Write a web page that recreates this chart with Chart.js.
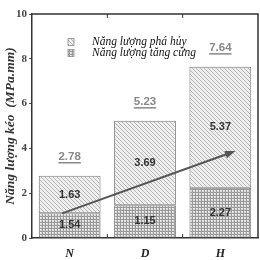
<!DOCTYPE html>
<html>
<head>
<meta charset="utf-8">
<style>
  html, body { margin: 0; padding: 0; background: #fff; }
  #wrap { width: 260px; height: 260px; }
</style>
</head>
<body>
<div id="wrap">
  <canvas id="my-chart" width="260" height="260"></canvas>
</div>

<script src="https://cdn.jsdelivr.net/npm/chart.js"></script>

<script>
  const categories = ['N', 'D', 'H']
  const seriesNames = ['Năng lượng phá hủy', 'Năng lượng tăng cứng']
  // bar heights
  const hardening = [1.10, 1.46, 2.24]
  const fracture = [1.68, 3.77, 5.40]
  // printed labels (as written on the figure)
  const hardeningLabels = ['1.54', '1.15', '2.27']
  const fractureLabels = ['1.63', '3.69', '5.37']
  const totalLabels = ['2.78', '5.23', '7.64']
  const yTicks = [0, 2, 4, 6, 8, 10]
  // arrow, in data units [category index, value]
  const arrowFrom = [-0.1, 1.1]
  const arrowTo = [2.2, 3.88]

  const makePattern = (size, draw) => {
    const c = document.createElement('canvas')
    c.width = size; c.height = size
    const g = c.getContext('2d')
    draw(g, size)
    return document.getElementById('my-chart').getContext('2d').createPattern(c, 'repeat')
  }

  const hatch = makePattern(4, (g, s) => {
    g.fillStyle = '#efefef'
    g.fillRect(0, 0, s, s)
    g.strokeStyle = '#a0a0a0'
    g.lineWidth = 0.75
    g.beginPath()
    g.moveTo(-1, -1); g.lineTo(s + 1, s + 1)
    g.moveTo(-1, s - 1); g.lineTo(1, s + 1)
    g.moveTo(s - 1, -1); g.lineTo(s + 1, 1)
    g.stroke()
  })

  const checker = makePattern(3, (g, s) => {
    g.fillStyle = '#dcdcdc'
    g.fillRect(0, 0, s, s)
    g.fillStyle = '#999999'
    g.fillRect(0, 0, s, 1)
    g.fillRect(0, 0, 1, s)
    g.fillStyle = '#f6f6f6'
    g.fillRect(1, 1, 1, 1)
  })

  const serif = '"Liberation Serif", "DejaVu Serif", serif'
  const sans = '"Liberation Sans", Arial, sans-serif'

  const dataAt = (chart, idx, val) => {
    const xs = chart.scales.x, ys = chart.scales.y
    const p0 = xs.getPixelForValue(0), p1 = xs.getPixelForValue(1)
    return [p0 + (p1 - p0) * idx, ys.getPixelForValue(val)]
  }

  const decor = {
    id: 'decor',
    afterDatasetsDraw(chart) {
      const ctx = chart.ctx
      const a = chart.chartArea
      ctx.save()

      // frame top + right
      ctx.strokeStyle = '#333'
      ctx.lineWidth = 1.5
      ctx.beginPath()
      ctx.moveTo(a.left, a.top); ctx.lineTo(a.right, a.top); ctx.lineTo(a.right, a.bottom)
      ctx.stroke()

      // inward ticks at category boundaries
      const xs = chart.scales.x
      const step = xs.getPixelForValue(1) - xs.getPixelForValue(0)
      ctx.lineWidth = 1
      for (let i = 0; i < categories.length - 1; i++) {
        const x = xs.getPixelForValue(i) + step / 2
        ctx.beginPath()
        ctx.moveTo(x, a.bottom); ctx.lineTo(x, a.bottom - 4)
        ctx.moveTo(x, a.top); ctx.lineTo(x, a.top + 4)
        ctx.stroke()
      }

      // segment labels
      ctx.textAlign = 'center'
      ctx.textBaseline = 'middle'
      ctx.font = 'bold 11px ' + sans
      ctx.fillStyle = '#333'
      const mBot = chart.getDatasetMeta(0).data
      const mTop = chart.getDatasetMeta(1).data
      mBot.forEach((b, i) => {
        ctx.fillText(hardeningLabels[i], b.x, (b.y + b.base) / 2)
      })
      mTop.forEach((b, i) => {
        ctx.fillText(fractureLabels[i], b.x, (b.y + b.base) / 2)
      })

      // totals, underlined
      ctx.fillStyle = '#888'
      ctx.strokeStyle = '#888'
      ctx.lineWidth = 1.5
      ctx.font = 'bold 11.5px ' + sans
      mTop.forEach((b, i) => {
        const y = b.y - 19
        ctx.fillText(totalLabels[i], b.x, y)
        const w = ctx.measureText(totalLabels[i]).width
        ctx.beginPath()
        ctx.moveTo(b.x - w / 2, y + 6); ctx.lineTo(b.x + w / 2, y + 6)
        ctx.stroke()
      })

      // arrow
      const [x0, y0] = dataAt(chart, arrowFrom[0], arrowFrom[1])
      const [x1, y1] = dataAt(chart, arrowTo[0], arrowTo[1])
      const ang = Math.atan2(y1 - y0, x1 - x0)
      const head = 11
      ctx.strokeStyle = '#555'
      ctx.fillStyle = '#555'
      ctx.lineWidth = 2
      ctx.beginPath()
      ctx.moveTo(x0, y0)
      ctx.lineTo(x1 - head * 0.8 * Math.cos(ang), y1 - head * 0.8 * Math.sin(ang))
      ctx.stroke()
      ctx.beginPath()
      ctx.moveTo(x1, y1)
      ctx.lineTo(x1 - head * Math.cos(ang - 0.35), y1 - head * Math.sin(ang - 0.35))
      ctx.lineTo(x1 - head * Math.cos(ang + 0.35), y1 - head * Math.sin(ang + 0.35))
      ctx.closePath()
      ctx.fill()

      // legend inside the plot
      const items = [[seriesNames[0], hatch], [seriesNames[1], checker]]
      ctx.textAlign = 'left'
      ctx.font = 'italic 11.5px ' + serif
      items.forEach(([txt, pat], i) => {
        const y = a.top + 28 + i * 11
        ctx.fillStyle = pat
        ctx.fillRect(a.left + 36, y - 3.5, 6, 7)
        ctx.strokeStyle = '#888'
        ctx.lineWidth = 0.8
        ctx.strokeRect(a.left + 36, y - 3.5, 6, 7)
        ctx.fillStyle = '#111'
        ctx.fillText(txt, a.left + 60, y)
      })

      ctx.restore()
    }
  }

  const chart = new Chart(document.getElementById('my-chart').getContext('2d'), {
    type: 'bar',
    data: {
      labels: categories,
      datasets: [
        {
          label: seriesNames[1],
          data: hardening,
          backgroundColor: checker,
          borderColor: '#7a7a7a',
          borderWidth: 1,
          borderSkipped: false,
          stack: 's',
        },
        {
          label: seriesNames[0],
          data: fracture,
          backgroundColor: hatch,
          borderColor: '#7a7a7a',
          borderWidth: 1,
          borderSkipped: false,
          stack: 's',
        },
      ]
    },
    options: {
      responsive: false,
      animation: false,
      layout: { padding: { top: 14, right: 2, left: 2, bottom: 0 } },
      plugins: { legend: { display: false }, tooltip: { enabled: false } },
      datasets: { bar: { barPercentage: 0.82, categoryPercentage: 1 } },
      scales: {
        x: {
          stacked: true,
          grid: { display: false, drawTicks: false },
          border: { color: '#333', width: 1.5 },
          ticks: {
            color: '#222',
            font: { family: serif, size: 12, style: 'italic', weight: 'bold' },
            padding: 9,
          },
          afterFit: s => { s.height = 22 },
        },
        y: {
          stacked: true,
          min: 0,
          max: 10,
          afterBuildTicks: s => { s.ticks = yTicks.map(v => ({ value: v })) },
          grid: { drawOnChartArea: false, tickLength: 3, color: '#555' },
          border: { color: '#333', width: 1.5 },
          ticks: {
            color: '#444',
            font: { family: serif, size: 11, weight: 'bold' },
            padding: 2,
          },
          title: {
            display: true,
            text: 'Năng lượng kéo  (MPa.mm)',
            color: '#333',
            font: { family: serif, size: 13.5, style: 'italic', weight: 'bold' },
            padding: { top: 0, bottom: 1 },
          },
          afterFit: s => { s.width = 30 },
        }
      }
    },
    plugins: [decor]
  });
</script>
</body>
</html>
